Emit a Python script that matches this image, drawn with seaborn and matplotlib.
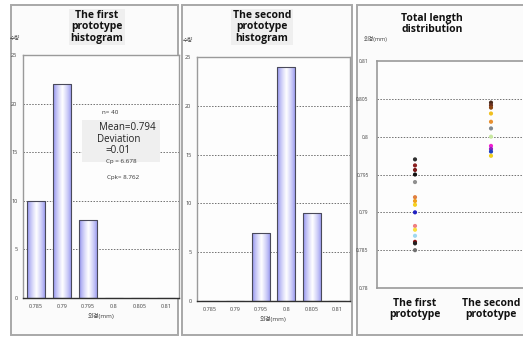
import numpy as np
import pandas as pd
import matplotlib
matplotlib.use("Agg")
import matplotlib.pyplot as plt
from matplotlib.patches import Rectangle
import seaborn as sns

# ---------------- data ----------------
bins = ["0.785", "0.79", "0.795", "0.8", "0.805", "0.81"]
first_counts = [10, 22, 8, 0, 0, 0]
second_counts = [0, 0, 7, 24, 9, 0]

first_vals = [0.7970, 0.7962, 0.7956, 0.7950, 0.7940, 0.7920, 0.7915, 0.7910,
              0.7900, 0.7882, 0.7877, 0.7869, 0.7861, 0.7859, 0.7850]
first_cols = ["#303030", "#8b2020", "#7a1a1a", "#111111", "#909090", "#e08040",
              "#f0a020", "#f5d020", "#2020c0", "#f08080", "#f8e040", "#a0d8f0",
              "#8b1010", "#202020", "#707070"]
second_vals = [0.8045, 0.80415, 0.80384, 0.80306, 0.80197, 0.80109, 0.8000,
               0.79878, 0.79838, 0.79803, 0.79747]
second_cols = ["#4a2a1a", "#6a3020", "#8b4513", "#f0c020", "#e89030", "#808890",
               "#c8e8a0", "#f020d0", "#9020c0", "#2040c0", "#f0d020"]
groups = ["The first\nprototype", "The second\nprototype"]
dist_ticks = [0.78, 0.785, 0.79, 0.795, 0.8, 0.805, 0.81]
dist_ticklabels = ["0.78", "0.785", "0.79", "0.795", "0.8", "0.805", "0.81"]

stats_lines = ["n= 40", "Mean=0.794", "Deviation", "=0.01", "Cp = 6.678", "Cpk= 8.762"]

# ---------------- style ----------------
sns.set_theme(style="white")
plt.rcParams['font.family'] = ['Open Sans', 'Noto Sans CJK KR', 'DejaVu Sans']

W, H = 523, 338
fig = plt.figure(figsize=(W / 100, H / 100), dpi=100)
fig.patch.set_facecolor("white")


def fx(px):
    return px / W


def fy(py):
    return 1 - py / H


def axes_px(l, t, r, b):
    ax = fig.add_axes([fx(l), fy(b), fx(r) - fx(l), (b - t) / H])
    ax.set_zorder(2)
    return ax


# panel frames
for (l, t, r, b) in [(11, 5, 178, 335), (182, 5, 352, 335), (357, 5, 530, 335)]:
    fig.patches.append(Rectangle((fx(l), fy(b)), fx(r) - fx(l), (b - t) / H,
                                 transform=fig.transFigure, fill=True,
                                 facecolor="#fbfbfb", edgecolor="#a8a8a8",
                                 linewidth=1.4, zorder=-1))

grad = np.linspace(0, 1, 64)
grad = 1 - np.abs(grad - 0.5) * 2  # 0 at edges, 1 centre
gimg = np.zeros((1, 64, 3))
edge_c = np.array([0.52, 0.52, 0.93])
centre_c = np.array([1.0, 1.0, 1.0])
for i, g in enumerate(grad):
    gimg[0, i] = edge_c + (centre_c - edge_c) * (g ** 0.7)


def hist_panel(ax, counts, title, title_x):
    df = pd.DataFrame({"bin": bins, "count": counts})
    sns.barplot(data=df, x="bin", y="count", order=bins, ax=ax,
                color="#c8c8f5", edgecolor="#4a4a5a", linewidth=0.8,
                width=0.72, saturation=1)
    for p in list(ax.patches):
        if p.get_height() <= 0:
            continue
        x0, y0 = p.get_x(), p.get_y()
        im = ax.imshow(gimg, extent=[x0, x0 + p.get_width(), y0, y0 + p.get_height()],
                       aspect="auto", zorder=2.5, interpolation="bilinear")
        im.set_clip_path(p)
        p.set_facecolor("none")
        p.set_zorder(3)
    ax.set_xlim(-0.5, 5.5)
    ax.set_ylim(0, 25)
    ax.set_yticks([0, 5, 10, 15, 20, 25])
    ax.set_yticklabels(["0", "5", "10", "15", "20", "25"])
    ax.set_facecolor("#fdfdfd")
    for y in [5, 10, 15, 20]:
        ax.axhline(y, color="#707070", lw=0.7, ls=(0, (1.5, 1.5)), zorder=1)
    ax.tick_params(axis="both", labelsize=4, colors="#404040", length=0, pad=4)
    ax.set_xlabel("외경(mm)", fontsize=4.5, color="#404040", labelpad=3)
    ax.set_ylabel("")
    for s in ["top", "right", "left"]:
        ax.spines[s].set_color("#9a9a9a")
        ax.spines[s].set_linewidth(1.0)
    ax.spines["bottom"].set_color("#303030")
    ax.spines["bottom"].set_linewidth(1.0)
    fig.text(fx(title_x), fy(27), title, ha="center", va="center",
             fontsize=7.5, fontweight="bold", color="#111111", linespacing=1.0,
             bbox=dict(boxstyle="square,pad=0.15", facecolor="#efefef", edgecolor="none"))


ax1 = axes_px(23, 55, 179, 298)
hist_panel(ax1, first_counts, "The first\nprototype\nhistogram", 97)
fig.text(fx(15), fy(39), "수량", fontsize=4, color="#404040", ha="center", va="center")

ax2 = axes_px(197, 57, 350, 301)
hist_panel(ax2, second_counts, "The second\nprototype\nhistogram", 262)
fig.text(fx(188), fy(41), "수량", fontsize=4, color="#404040", ha="center", va="center")

# stats annotation
fig.patches.append(Rectangle((fx(82), fy(162)), fx(78), 42 / H, transform=fig.transFigure,
                             facecolor="#efefef", edgecolor="none", zorder=5))
fig.text(fx(110), fy(113), stats_lines[0], fontsize=4.5, color="#333333", ha="center", va="center", zorder=6)
fig.text(fx(127), fy(128), stats_lines[1], fontsize=7, color="#222222", ha="center", va="center", zorder=6)
fig.text(fx(119), fy(140), stats_lines[2], fontsize=7, color="#222222", ha="center", va="center", zorder=6)
fig.text(fx(118), fy(151), stats_lines[3], fontsize=7, color="#222222", ha="center", va="center", zorder=6)
fig.text(fx(121), fy(161), stats_lines[4], fontsize=4.5, color="#333333", ha="center", va="center", zorder=7)
fig.text(fx(123), fy(178), stats_lines[5], fontsize=4.5, color="#333333", ha="center", va="center", zorder=6)

# distribution panel
ax3 = axes_px(377, 61, 529, 288)
dd = pd.DataFrame({
    "group": [groups[0]] * len(first_vals) + [groups[1]] * len(second_vals),
    "val": first_vals + second_vals,
    "pid": [f"p{i}" for i in range(len(first_vals) + len(second_vals))],
})
pal = dict(zip(dd["pid"], first_cols + second_cols))
sns.stripplot(data=dd, x="group", y="val", hue="pid", palette=pal, order=groups,
              jitter=False, size=3.0, legend=False, ax=ax3, zorder=3, linewidth=0)
ax3.set_xlim(-0.5, 1.5)
ax3.set_ylim(0.78, 0.81)
ax3.set_yticks(dist_ticks)
ax3.set_yticklabels(dist_ticklabels)
ax3.set_facecolor("#fdfdfd")
for y in dist_ticks[1:-1]:
    ax3.axhline(y, color="#707070", lw=0.7, ls=(0, (1.5, 1.5)), zorder=1)
ax3.tick_params(axis="y", labelsize=3.5, colors="#404040", length=0, pad=6)
ax3.tick_params(axis="x", labelsize=7.5, colors="#111111", length=0, pad=7)
for lbl in ax3.get_xticklabels():
    lbl.set_fontweight("bold")
    lbl.set_linespacing(1.0)
ax3.set_xlabel("")
ax3.set_ylabel("")
for s in ax3.spines.values():
    s.set_color("#9a9a9a")
    s.set_linewidth(1.2)
fig.text(fx(376), fy(39), "외경(mm)", fontsize=4, color="#404040", ha="center", va="center")
fig.text(fx(432), fy(24), "Total length\ndistribution", ha="center", va="center",
         fontsize=7.5, fontweight="bold", color="#111111", linespacing=1.0)

fig.savefig("out.png", dpi=100)
